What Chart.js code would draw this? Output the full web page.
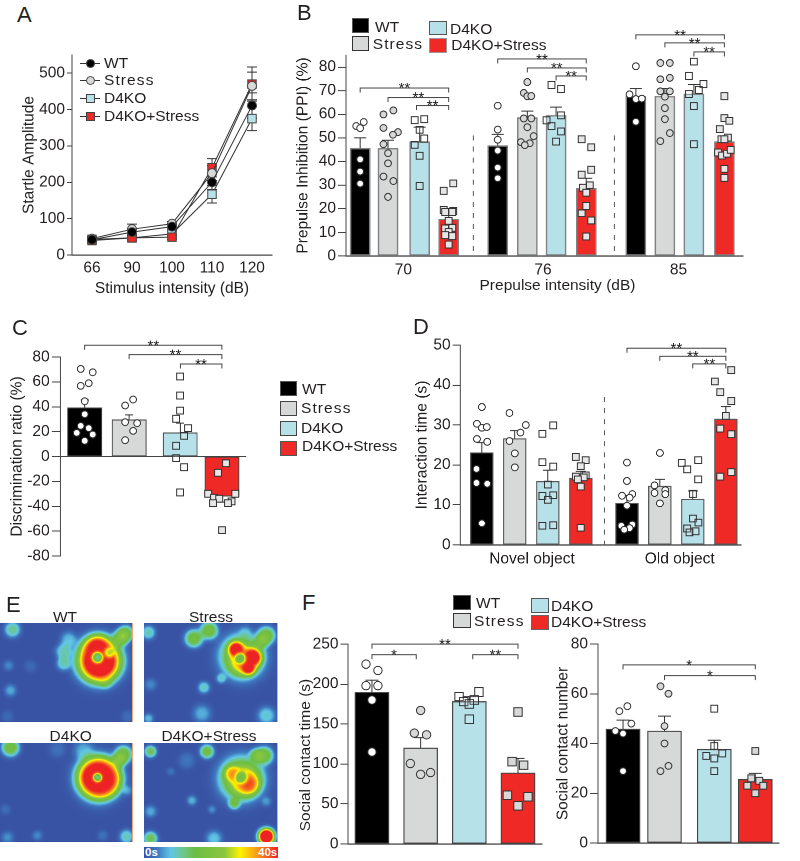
<!DOCTYPE html>
<html>
<head>
<meta charset="utf-8">
<title>D4KO stress panels</title>
<script src="https://cdn.jsdelivr.net/npm/chart.js@4/dist/chart.umd.min.js"></script>
<style>
  html, body { margin: 0; padding: 0; background: #fff; }
  #page { position: relative; width: 800px; height: 861px; overflow: hidden; font-family: "Liberation Sans", Arial, sans-serif; color: #231f20; }
  #page canvas { position: absolute; }
  .txt { position: absolute; white-space: nowrap; line-height: 1; }
  .box { position: absolute; box-sizing: border-box; }
</style>
</head>
<body>
<div id="page"></div>
<script>
// ---- data ----
const groupNames = ['WT', 'Stress', 'D4KO', 'D4KO+Stress'];

// A: startle
const startleLabels = ['66', '90', '100', '110', '120'];
const startleWT = [42, 63, 78, 200, 411];
const startleStress = [45, 71, 86, 225, 465];
const startleKO = [43, 47, 58, 167, 375];
const startleRed = [40, 47, 49, 240, 470];
const startleWTErr = [5, 10, 6, 20, 35];
const startleStressErr = [5, 14, 6, 20, 38];
const startleKOErr = [4, 6, 8, 24, 33];
const startleRedErr = [4, 6, 6, 25, 47];

// B: PPI, one mean/err per bar, 4 bars per intensity
const ppiLabels = ['70', '76', '85'];
const ppiMeans = [45.6, 45.6, 48.3, 15.6, 46.7, 58.5, 59.5, 28.6, 67.6, 67.6, 68.6, 48.4];
const ppiTops = [50, 49, 54.5, 19, 51.5, 61.3, 63, 32.9, 70.8, 70.8, 72.7, 50.4];
const ppi70WT = [55, 54.1, 56.7, 40.9, 35.7, 30.6];
const ppi70Stress = [59.9, 61.6, 54.2, 52.4, 51.3, 47.3, 43.5, 39.2, 33.6, 31.7, 25];
const ppi70KO = [57.5, 57.9, 53.4, 49.7, 47, 42.4, 29.6];
const ppi70Red = [30.7, 27.6, 19.4, 19.1, 18.6, 18.6, 14.9, 11.6, 11.9, 10.2, 8.8, 8.4, 4.8];
const ppi76WT = [63.6, 53.5, 49.2, 44.6, 37.4, 32.9];
const ppi76Stress = [73.6, 69, 67.6, 67.7, 58.2, 58.2, 54.5, 50.7, 48.2, 47.7, 46.9];
const ppi76KO = [72.4, 70.7, 59.5, 57.4, 55, 52.7, 48.4];
const ppi76Red = [49.4, 46, 36.5, 34.4, 29.9, 28.9, 26.8, 21.2, 18, 15, 8.2];
const ppi85WT = [80.3, 68.4, 66.4, 66.6, 56.8];
const ppi85Stress = [81.7, 81.7, 74.8, 75.4, 69.7, 69.7, 67.4, 62.6, 57.9, 52, 48.6];
const ppi85KO = [82.3, 76.2, 72.7, 70.3, 68.6, 63.5, 47.3];
const ppi85Red = [67.6, 58.4, 57.2, 53.7, 50.1, 49.4, 49.4, 43.8, 42.5, 43.3, 44.9, 36.8, 33];
// from bar, to bar, bracket height, stars
const ppiBrackets = [
  [0, 3, 71.1, '**'], [1, 3, 67.1, '**'], [1.9, 3, 63.7, '**'],
  [4, 7, 83.4, '**'], [5, 7, 79.6, '**'], [6, 7, 76.2, '**'],
  [8, 11, 93.6, '**'], [9, 11, 90.2, '**'], [10, 11, 86.4, '**']
];

// C: discrimination ratio
const discMeans = [39.1, 29.5, 19, -31.9];
const discTops = [45.5, 33.5, 26.8, -36.7];
const discWT = [70.4, 67.7, 58.9, 56.8, 44.4, 34, 24.6, 22.8, 19, 17.7, 12.6];
const discStress = [45.8, 41, 27.6, 26.8, 20.6, 13.1];
const discKO = [64.3, 49, 36.9, 30.3, 22.8, 16.6, 8.6, -1.3, -8.6, -28.9];
const discRed = [-5.4, -13.1, -30, -30, -33.2, -34, -36.1, -37.5, -37.5, -59.2];
const discBrackets = [[0, 3, 89.4, '**'], [1, 3, 81.9, '**'], [2, 3, 74.4, '**']];

// D: interaction time
const objectLabels = ['Novel object', 'Old object'];
const objectMeans = [23.1, 26.6, 15.9, 16.7, 10.4, 14.7, 11.4, 31.5];
const objectTops = [25.6, 28.6, 18.7, 18.4, 12.3, 16.4, 13.5, 34.6];
const novelWT = [34.5, 30.3, 29.3, 29.5, 26.5, 25.8, 19, 15.5, 15.3, 5.4];
const novelStress = [33, 30, 28.1, 26, 22.9, 19.4];
const novelKO = [29.9, 27.8, 20.7, 19.6, 15.1, 12.2, 12.4, 11.3, 4.8, 4.9];
const novelRed = [22, 21.2, 19.7, 17.1, 17.4, 16.9, 16.4, 14.6, 4.3];
const oldWT = [20.6, 16, 12.3, 12.7, 11.8, 9.8, 4.8, 5.1, 4.2, 3.8];
const oldStress = [23, 14.9, 13.7, 13, 12.7, 10.4];
const oldKO = [20.5, 21.2, 18.9, 16.4, 12.8, 6.6, 5.6, 4.1, 3.4, 3.1];
const oldRed = [43.7, 40.9, 38.2, 36, 32.3, 29.1, 27.7, 18.2, 17.1];
const objectBrackets = [[4, 7, 49.2, '**'], [5, 7, 47.2, '**'], [6, 7, 45.3, '**']];

// F: social contact
const timeMeans = [189.5, 120, 178, 89];
const timeTops = [205, 133, 184, 107];
const timeWT = [225, 217, 198, 198, 180, 115];
const timeStress = [167, 138.6, 136.5, 100.6, 89.3, 87];
const timeKO = [190, 184.5, 178, 180, 175, 156];
const timeRed = [165, 103, 98.5, 61, 59, 47.6];
const timeBrackets = [[0, 3, 250, '**'], [0, 0.91, 236.6, '*'], [2.07, 3, 236.6, '**']];
const numberMeans = [45.8, 45, 37.7, 25.6];
const numberTops = [49.4, 51, 41.3, 28];
const numberWT = [55, 53, 48, 45, 44, 28.9];
const numberStress = [63, 60, 47, 40, 31, 28.9];
const numberKO = [54, 39, 35, 36, 34, 28.9];
const numberRed = [37, 26, 25, 23, 23, 20];
const numberBrackets = [[0, 3, 71.6, '*'], [1, 3, 67.3, '*']];

// E: heat blobs, [x, y, radius, peak] in arena units, negative peak carves a hole
const heatWT = [
  [98, 36, 23, 0.5], [99, 38, 19, 1.5], [97, 26, 13, 1.3], [97, 34, 5, -0.72], [109, 29, 5, -0.35],
  [125, 10, 8, 0.42], [120, 15, 8, 0.4], [12, 6, 8, 0.28], [63, 28, 8, 0.24], [63, 40, 7, 0.24], [68, 16, 8, 0.18],
  [8, 42, 5, 0.12], [10, 67, 6, 0.16], [105, 58, 7, 0.2], [30, 43, 6, 0.06], [127, 93, 6, 0.07], [7, 93, 6, 0.06]
];
const heatStress = [
  [97, 33, 22, 0.55], [91, 26, 8, 1.3], [107, 34, 9, 1.4], [103, 44, 7, 1.3], [98, 38, 13, 0.7], [95, 35, 5, -0.6],
  [121, 12, 9, 0.42], [116, 18, 7, 0.3], [49, 15, 9, 0.42], [64, 7, 9, 0.42], [4, 9, 7, 0.25], [59, 64, 6, 0.24],
  [76, 55, 5, 0.2], [6, 61, 6, 0.12], [57, 90, 9, 0.17], [121, 92, 9, 0.22], [4, 95, 5, 0.18], [100, 8, 6, 0.1]
];
const heatKO = [
  [98, 35, 22, 0.5], [97, 34, 18, 1.5], [102, 36, 16, 1.2], [97, 34, 4, -0.7],
  [123, 11, 9, 0.42], [118, 17, 7, 0.36], [10, 4, 9, 0.42], [83, 7, 10, 0.16], [57, 6, 8, 0.08], [127, 47, 5, 0.13],
  [126, 93, 7, 0.25], [37, 92, 5, 0.12], [7, 94, 6, 0.13], [5, 66, 5, 0.07], [102, 92, 5, 0.08]
];
const heatRed = [
  [96, 35, 22, 0.55], [100, 38, 14, 0.68], [104, 41, 9, 0.7], [87, 30, 8, 0.66], [96, 34, 6, -0.5],
  [89, 60, 6, 0.32], [119, 12, 9, 0.42], [111, 12, 7, 0.34], [62, 8, 7, 0.4], [6, 8, 6, 0.36], [121, 93, 8, 1.4],
  [47, 57, 5, 0.17], [67, 66, 4, 0.13], [6, 68, 6, 0.16], [6, 95, 7, 0.36], [69, 95, 8, 0.2], [26, 28, 4, 0.08],
  [121, 58, 5, 0.13], [42, 17, 8, 0.09]
];

// ---- look ----
const FONT = '"Liberation Sans", Arial, sans-serif';
const INK = '#231f20';
const LINE = '#444444';
const barColors = ['#000000', '#d7d8d8', '#b7e1e9', '#ef2a26'];
const heatStops = [
  [0, [57, 83, 164]], [0.1, [62, 120, 190]], [0.2, [96, 198, 230]], [0.3, [110, 200, 130]], [0.38, [108, 189, 69]],
  [0.6, [140, 198, 63]], [0.72, [255, 242, 0]], [0.85, [247, 148, 29]], [1, [237, 34, 36]]
];

Chart.defaults.font.family = FONT;
Chart.defaults.color = INK;
Chart.defaults.animation = false;

const page = document.getElementById('page');

function addText(str, x, y, size, extra) {
  const el = document.createElement('div');
  el.className = 'txt';
  el.textContent = str;
  el.style.left = x + 'px';
  el.style.top = y + 'px';
  el.style.fontSize = size + 'px';
  el.style.transform = 'translateY(-50%)';
  Object.assign(el.style, extra || {});
  page.appendChild(el);
  return el;
}

function addBox(x, y, w, h, fill, edge) {
  const el = document.createElement('div');
  el.className = 'box';
  el.style.cssText += `left:${x}px;top:${y}px;width:${w}px;height:${h}px;background:${fill};border:${edge};`;
  page.appendChild(el);
  return el;
}

function addCanvas(area, gutter, topPad, rightPad, bottomPad) {
  const c = document.createElement('canvas');
  const w = area[2] - area[0] + gutter + rightPad;
  const h = area[3] - area[1] + topPad + bottomPad;
  c.width = w;
  c.height = h;
  c.style.cssText = `left:${area[0] - gutter}px;top:${area[1] - topPad}px;width:${w}px;height:${h}px;`;
  page.appendChild(c);
  return c.getContext('2d');
}

// error bars, brackets, stars and dashed separators, all placed through the scales
const markup = {
  id: 'markup',
  afterDatasetDraw(chart, args, opts) {
    if (args.meta.type !== 'bar') return;
    const { x, y } = chart.scales;
    const ctx = chart.ctx;
    ctx.save();
    ctx.strokeStyle = '#333333';
    ctx.lineWidth = 1;
    opts.slots.forEach((s, i) => {
      const px = x.getPixelForValue(s);
      ctx.beginPath();
      ctx.moveTo(px, y.getPixelForValue(opts.means[i]));
      ctx.lineTo(px, y.getPixelForValue(opts.tops[i]));
      ctx.moveTo(px - opts.cap, y.getPixelForValue(opts.tops[i]));
      ctx.lineTo(px + opts.cap, y.getPixelForValue(opts.tops[i]));
      ctx.stroke();
    });
    ctx.restore();
  },
  afterDraw(chart, args, opts) {
    const { x, y } = chart.scales;
    const ctx = chart.ctx;
    const slotAt = b => {
      const lo = Math.floor(b);
      const hi = Math.min(lo + 1, opts.slots.length - 1);
      return opts.slots[lo] + (opts.slots[hi] - opts.slots[lo]) * (b - lo);
    };
    ctx.save();
    ctx.strokeStyle = LINE;
    ctx.fillStyle = INK;
    ctx.lineWidth = 1;
    ctx.textAlign = 'center';
    ctx.font = '15px ' + FONT;
    (opts.brackets || []).forEach(([from, to, level, stars]) => {
      const x0 = x.getPixelForValue(slotAt(from));
      const x1 = x.getPixelForValue(slotAt(to));
      const py = y.getPixelForValue(level);
      ctx.beginPath();
      ctx.moveTo(x0, py + 4.5);
      ctx.lineTo(x0, py);
      ctx.lineTo(x1, py);
      ctx.lineTo(x1, py + 4.5);
      ctx.stroke();
      ctx.fillText(stars, (x0 + x1) / 2, py + 5);
    });
    ctx.setLineDash([5, 6]);
    ctx.strokeStyle = '#555555';
    (opts.dashes || []).forEach(([slot, from, to]) => {
      const px = x.getPixelForValue(slot);
      ctx.beginPath();
      ctx.moveTo(px, y.getPixelForValue(from));
      ctx.lineTo(px, y.getPixelForValue(to));
      ctx.stroke();
    });
    ctx.restore();
  }
};

function yAxis(min, max, step, title, gutter, tickLen, showTitle) {
  return {
    min, max,
    afterFit(s) { s.width = gutter; },
    ticks: { stepSize: step, includeBounds: false, font: { size: 15.5 }, color: INK, padding: 2 },
    grid: { drawOnChartArea: false, tickLength: tickLen, tickColor: LINE },
    border: { color: LINE, width: 1 },
    title: { display: showTitle !== false, text: title, font: { size: 15.5 }, color: INK, padding: { top: 0, bottom: 0 } }
  };
}

// one panel of bars with jittered dots
function barPanel(cfg) {
  const ctx = addCanvas(cfg.area, cfg.gutter, cfg.topPad, 2, cfg.bottomPad);
  const u = cfg.unit;
  const jitterUnit = cfg.barPx / u;
  const dotSets = groupNames.map((name, g) => {
    const pts = [];
    cfg.dots.forEach((vals, i) => {
      if (i % 4 !== g) return;
      vals.forEach((v, k) => pts.push({ x: cfg.slots[i] + cfg.jitter[i][k] * jitterUnit, y: v }));
    });
    return {
      type: 'scatter',
      label: name,
      data: pts,
      order: 1,
      clip: false,
      pointStyle: g < 2 ? 'circle' : 'rect',
      pointRadius: g < 2 ? cfg.dotR : cfg.dotR * 1.414,
      pointBackgroundColor: cfg.dotFills[g],
      pointBorderColor: '#333333',
      pointBorderWidth: 1
    };
  });
  new Chart(ctx, {
    type: 'bar',
    data: {
      datasets: [{
        label: 'mean',
        data: cfg.slots.map((s, i) => ({ x: s, y: cfg.means[i] })),
        order: 5,
        grouped: false,
        barThickness: cfg.barPx,
        backgroundColor: cfg.slots.map((s, i) => barColors[i % 4]),
        borderColor: cfg.edge,
        borderWidth: cfg.edgeW,
        borderSkipped: false
      }].concat(dotSets)
    },
    options: {
      responsive: false,
      devicePixelRatio: 2,
      layout: { padding: { top: cfg.topPad, right: 2, left: 0, bottom: 0 } },
      plugins: {
        legend: { display: false },
        tooltip: { enabled: false },
        markup: { slots: cfg.slots, means: cfg.means, tops: cfg.tops, cap: cfg.cap, brackets: cfg.brackets, dashes: cfg.dashes }
      },
      scales: {
        x: {
          type: 'linear',
          offset: false,
          display: cfg.hideX ? false : true,
          min: (cfg.area[0] - cfg.first) / u,
          max: (cfg.area[2] - cfg.first) / u,
          afterFit(s) { s.height = cfg.bottomPad; },
          afterBuildTicks(s) { s.ticks = (cfg.tickSlots || []).map(v => ({ value: v })); },
          ticks: {
            display: !!cfg.tickSlots,
            autoSkip: false,
            maxRotation: 0,
            padding: 5,
            font: { size: 15.5 },
            color: INK,
            callback: v => (cfg.tickLabels || [])[(cfg.tickSlots || []).indexOf(v)]
          },
          grid: { display: false, drawTicks: false },
          border: { color: LINE, width: 1.2 }
        },
        y: cfg.y
      }
    },
    plugins: [markup]
  });
}

// ---- A ----
(function () {
  const area = [72, 55, 273, 255];
  const ctx = addCanvas(area, 52, 12, 6, 43);
  const styles = [
    { label: groupNames[0], data: startleWT, pointStyle: 'circle', pointRadius: 4.5, pointBackgroundColor: '#000000', errs: startleWTErr },
    { label: groupNames[1], data: startleStress, pointStyle: 'circle', pointRadius: 4.5, pointBackgroundColor: '#d7d8d8', errs: startleStressErr },
    { label: groupNames[3], data: startleRed, pointStyle: 'rect', pointRadius: 6, pointBackgroundColor: barColors[3], errs: startleRedErr },
    { label: groupNames[2], data: startleKO, pointStyle: 'rect', pointRadius: 6, pointBackgroundColor: barColors[2], errs: startleKOErr }
  ];
  const whiskers = {
    id: 'whiskers',
    beforeDatasetsDraw(chart) {
      const { x, y } = chart.scales;
      const c = chart.ctx;
      c.save();
      c.strokeStyle = '#333333';
      c.lineWidth = 1;
      chart.data.datasets.forEach(ds => {
        ds.data.forEach((v, i) => {
          const px = x.getPixelForValue(i);
          const hi = y.getPixelForValue(v + ds.errs[i]);
          const lo = y.getPixelForValue(v - ds.errs[i]);
          c.beginPath();
          c.moveTo(px, hi); c.lineTo(px, lo);
          c.moveTo(px - 5, hi); c.lineTo(px + 5, hi);
          c.moveTo(px - 5, lo); c.lineTo(px + 5, lo);
          c.stroke();
        });
      });
      c.restore();
    }
  };
  new Chart(ctx, {
    type: 'line',
    data: {
      labels: startleLabels,
      datasets: styles.map(s => Object.assign({ borderColor: '#333333', borderWidth: 1, tension: 0, pointBorderColor: '#444444', pointBorderWidth: 1, clip: false }, s))
    },
    options: {
      responsive: false,
      devicePixelRatio: 2,
      layout: { padding: { top: 12, right: 6, left: 0, bottom: 0 } },
      plugins: { legend: { display: false }, tooltip: { enabled: false } },
      scales: {
        x: {
          offset: true,
          afterFit(s) { s.height = 43; },
          ticks: { font: { size: 15.5 }, color: INK, padding: 4 },
          grid: { display: false, drawTicks: false },
          border: { color: LINE, width: 1.2 },
          title: { display: true, text: 'Stimulus intensity (dB)', font: { size: 15.5 }, color: INK, padding: 0 }
        },
        y: yAxis(0, 550, 100, 'Startle Amplitude', 52, 5)
      }
    },
    plugins: [whiskers]
  });
})();

// ---- B ----
barPanel({
  area: [346, 55, 747, 255.7], gutter: 52, topPad: 40, bottomPad: 24,
  first: 360.3, unit: 29.3, barPx: 20, edge: '#808285', edgeW: 1.5, cap: 6, dotR: 3.4,
  slots: [0, 0.96, 2.05, 3.05, 4.74, 5.76, 6.75, 7.79, 9.5, 10.5, 11.5, 12.55],
  means: ppiMeans, tops: ppiTops, brackets: ppiBrackets,
  dashes: [[3.9, 51, 1.7], [8.76, 51, 1.7]],
  tickSlots: [1.49, 6.3, 10.97], tickLabels: ppiLabels,
  dotFills: ['#ffffff', '#d7d8d8', 'rgba(255,255,255,0.15)', '#e6e6e6'],
  dots: [ppi70WT, ppi70Stress, ppi70KO, ppi70Red, ppi76WT, ppi76Stress, ppi76KO, ppi76Red, ppi85WT, ppi85Stress, ppi85KO, ppi85Red],
  jitter: [
    [-0.2, 0, 0.18, 0, 0, 0],
    [-0.23, 0.27, -0.23, 0.5, 0.25, -0.23, 0, 0, -0.23, 0.27, 0],
    [-0.25, 0.23, 0, 0.23, -0.25, 0, 0],
    [0.23, -0.25, -0.25, 0.23, -0.18, 0.18, 0, -0.18, 0.18, 0, -0.18, 0.18, 0],
    [0, 0, 0, 0, 0, 0],
    [0, -0.18, 0, 0.2, -0.18, 0.2, 0, 0.32, -0.32, 0.12, -0.13],
    [-0.23, 0.25, 0.25, -0.48, -0.23, 0.25, 0],
    [-0.23, 0.25, 0.25, -0.23, 0.18, -0.17, 0, 0, -0.23, 0.25, 0],
    [0, -0.32, 0, 0.3, 0],
    [-0.23, 0.25, -0.23, 0.25, -0.23, 0.25, 0, 0, 0, 0.25, -0.23],
    [0, -0.25, 0.48, 0.25, -0.25, 0, 0],
    [0, 0, 0.25, -0.23, 0.18, -0.15, 0, -0.32, -0.12, 0.13, 0.32, 0, 0]
  ],
  y: yAxis(0, 85, 10, 'Prepulse Inhibition (PPI) (%)', 52, 8)
});

// ---- C ----
(function () {
  const y = yAxis(-80, 80, 20, 'Discrimination ratio (%)', 52, 8.5);
  y.grid = {
    drawOnChartArea: true,
    tickLength: 8.5,
    tickColor: LINE,
    color: c => (c.tick && c.tick.value === 0 ? LINE : 'rgba(0,0,0,0)')
  };
  barPanel({
    area: [60.3, 356.7, 250, 556], gutter: 52, topPad: 22, bottomPad: 12, hideX: true,
    first: 85.3, unit: 45.3, barPx: 34, edge: '#444444', edgeW: 1, cap: 4, dotR: 3.4,
    slots: [0, 1, 2.15, 3.09],
    means: discMeans, tops: discTops, brackets: discBrackets,
    dotFills: ['#ffffff', '#ffffff', 'rgba(255,255,255,0.2)', '#e6e6e6'],
    dots: [discWT, discStress, discKO, discRed],
    jitter: [
      [-0.12, 0.24, 0.12, -0.12, 0, 0, -0.12, 0.12, -0.24, 0.24, 0],
      [0.12, -0.12, -0.12, 0.24, 0.12, -0.12],
      [0, 0, 0, -0.12, 0.24, 0.12, -0.12, -0.12, 0.12, 0],
      [0.12, -0.12, -0.41, 0.4, -0.24, -0.08, 0.29, -0.27, 0.18, 0]
    ],
    y
  });
})();

// ---- D ----
barPanel({
  area: [460.3, 345.3, 745, 545], gutter: 47, topPad: 12, bottomPad: 24,
  first: 482.3, unit: 33.4, barPx: 22.7, edge: '#58595b', edgeW: 1.2, cap: 5, dotR: 3.4,
  slots: [0, 1, 2, 3, 4.4, 5.4, 6.4, 7.4],
  means: objectMeans, tops: objectTops, brackets: objectBrackets,
  dashes: [[3.72, 37, 0]],
  tickSlots: [1.52, 6], tickLabels: objectLabels,
  dotFills: ['#ffffff', '#ffffff', 'rgba(255,255,255,0.15)', '#e6e6e6'],
  dots: [novelWT, novelStress, novelKO, novelRed, oldWT, oldStress, oldKO, oldRed],
  jitter: [
    [0, -0.22, 0, 0.22, -0.22, 0.24, -0.24, -0.24, 0.24, 0],
    [-0.24, 0.49, 0.25, -0.24, 0, 0],
    [0.24, -0.24, -0.24, 0.24, 0, -0.24, 0.24, 0, -0.24, 0.24],
    [-0.22, 0.22, 0, -0.22, 0.22, 0.13, -0.13, 0, 0],
    [0, 0, -0.22, 0.24, 0.12, 0, -0.25, 0.24, 0.12, -0.12],
    [0, -0.24, 0.24, -0.24, 0.24, 0],
    [-0.5, 0.24, -0.25, 0.24, 0, 0, 0.25, -0.25, 0.12, -0.15],
    [0.24, -0.49, -0.25, 0.24, 0, -0.25, 0.24, 0.24, -0.25]
  ],
  y: yAxis(0, 50, 10, 'Interaction time (s)', 47, 7.5)
});

// ---- E ----
function heatValue(x, y, blobs) {
  let keep = 1;
  let cut = 1;
  blobs.forEach(([bx, by, r, peak]) => {
    const d = Math.hypot(x - bx, y - by) / r;
    const g = Math.exp(-d * d * d);
    if (peak >= 0) keep *= Math.max(0, 1 - peak * g);
    else cut *= 1 + peak * g;
  });
  return (1 - keep) * cut;
}

function heatColor(v) {
  for (let i = 1; i < heatStops.length; i++) {
    if (v <= heatStops[i][0]) {
      const [a, ca] = heatStops[i - 1];
      const [b, cb] = heatStops[i];
      const t = (v - a) / (b - a);
      return ca.map((c, k) => c + (cb[k] - c) * t);
    }
  }
  return heatStops[heatStops.length - 1][1];
}

const heatLayer = {
  id: 'heatLayer',
  beforeDatasetsDraw(chart, args, opts) {
    const { x, y } = chart.scales;
    const { left, top, width, height } = chart.chartArea;
    const w = Math.round(width);
    const h = Math.round(height);
    const off = document.createElement('canvas');
    off.width = w;
    off.height = h;
    const octx = off.getContext('2d');
    const img = octx.createImageData(w, h);
    for (let j = 0; j < h; j++) {
      for (let i = 0; i < w; i++) {
        const col = heatColor(heatValue(x.getValueForPixel(left + i), y.getValueForPixel(top + j), opts.blobs));
        const p = (j * w + i) * 4;
        img.data[p] = col[0];
        img.data[p + 1] = col[1];
        img.data[p + 2] = col[2];
        img.data[p + 3] = 255;
      }
    }
    octx.putImageData(img, 0, 0);
    chart.ctx.drawImage(off, left, top, width, height);
    chart.ctx.save();
    chart.ctx.strokeStyle = '#f2a77a';
    chart.ctx.lineWidth = 1;
    chart.ctx.beginPath();
    chart.ctx.moveTo(left + width - 0.5, top);
    chart.ctx.lineTo(left + width - 0.5, top + height);
    chart.ctx.stroke();
    chart.ctx.restore();
  }
};

function heatPanel(blobs, area) {
  const ctx = addCanvas(area, 0, 0, 0, 0);
  new Chart(ctx, {
    type: 'scatter',
    data: { datasets: [{ data: [] }] },
    options: {
      responsive: false,
      plugins: { legend: { display: false }, tooltip: { enabled: false }, heatLayer: { blobs } },
      scales: {
        x: { type: 'linear', min: 0, max: 133, display: false },
        y: { type: 'linear', min: 0, max: 99, reverse: true, display: false }
      }
    },
    plugins: [heatLayer]
  });
}

heatPanel(heatWT, [0, 623, 133, 722]);
heatPanel(heatStress, [144, 623, 278, 722]);
heatPanel(heatKO, [0, 743, 133, 842]);
heatPanel(heatRed, [144, 743, 278, 842]);

// ---- F ----
barPanel({
  area: [347.7, 644.3, 547, 844], gutter: 45, topPad: 12, bottomPad: 12,
  first: 372.3, unit: 50, barPx: 34, edge: '#444444', edgeW: 1.2, cap: 6.5, dotR: 4.2,
  slots: [0, 1, 2, 3],
  means: timeMeans, tops: timeTops, brackets: timeBrackets,
  dotFills: ['#ffffff', '#d7d8d8', 'rgba(255,255,255,0.15)', '#d7d8d8'],
  dots: [timeWT, timeStress, timeKO, timeRed],
  jitter: [
    [-0.18, 0.18, -0.18, 0.18, 0, 0],
    [0, -0.19, 0.18, -0.31, 0.3, 0],
    [0.29, -0.31, -0.17, 0.15, 0, 0],
    [0, -0.18, 0.17, -0.32, 0.3, 0]
  ],
  y: yAxis(0, 250, 50, '', 45, 7.5, false)
});

barPanel({
  area: [597.7, 644, 783, 843.3], gutter: 44, topPad: 12, bottomPad: 12,
  first: 623.3, unit: 42.4, barPx: 34, edge: '#444444', edgeW: 1.2, cap: 6.5, dotR: 3.4,
  slots: [0, 1, 2.2, 3.19],
  means: numberMeans, tops: numberTops, brackets: numberBrackets,
  dotFills: ['#ffffff', '#d7d8d8', 'rgba(255,255,255,0.15)', '#d7d8d8'],
  dots: [numberWT, numberStress, numberKO, numberRed],
  jitter: [
    [0.13, -0.11, 0.25, -0.23, 0, 0],
    [-0.12, 0.12, 0, 0, 0.12, -0.12],
    [0, 0, -0.24, 0.24, 0, 0],
    [0, -0.12, 0.12, -0.24, 0.24, 0]
  ],
  y: yAxis(0, 80, 20, 'Social contact number', 44, 8)
});

// ---- page text: panel letters, legends, titles placed by hand ----
[['A', 17, 15], ['B', 297, 13], ['C', 12, 328], ['D', 413, 327], ['E', 6, 605], ['F', 302, 603]].forEach(([t, x, y]) => addText(t, x, y, 22));

addText('Prepulse intensity (dB)', 557.5, 285, 15.5, { transform: 'translate(-50%,-50%)' });
addText('Social contact time (s)', 305, 755, 15.5, { transform: 'translate(-50%,-50%) rotate(-90deg)' });

const stressStretch = { letterSpacing: '1.1px' };

// A legend, line-and-marker keys
[[63, barColors[0], '50%', 'WT'], [80, barColors[1], '50%', 'Stress'], [98, barColors[2], '0', 'D4KO'], [116, barColors[3], '0', 'D4KO+Stress']].forEach(([y, fill, rad, name], i) => {
  addBox(80, y, 20, 1, '#333333', '0');
  addBox(85.5, y - 4, 9, 9, fill, '1px solid #444').style.borderRadius = rad;
  addText(name, 104, y, 15.5, i === 1 ? stressStretch : null);
});

// B legend
addBox(352, 18, 17, 15, barColors[0], '1px solid #555');
addBox(352, 36, 17, 15, barColors[1], '1px solid #333');
addBox(429, 21, 18, 14, barColors[2], '1px solid #555');
addBox(429, 38, 18, 15, barColors[3], '1px solid #999');
addText('WT', 375, 27, 15.5);
addText('Stress', 372.7, 44, 15.5, stressStretch);
addText('D4KO', 450, 29, 15.5);
addText('D4KO+Stress', 451.3, 45, 15.5);

// C legend
addBox(280, 381, 17, 15, barColors[0], '1px solid #555');
addBox(280, 400.5, 17, 15, barColors[1], '1px solid #444');
addBox(280, 421, 17, 15, barColors[2], '1px solid #444');
addBox(280, 441, 17, 14.5, barColors[3], '1px solid #555');
addText('WT', 302, 389, 15.5);
addText('Stress', 301, 408, 15.5, stressStretch);
addText('D4KO', 301, 428, 15.5);
addText('D4KO+Stress', 302, 446, 15.5);

// E titles and colour bar
const midText = { transform: 'translate(-50%,-50%)' };
addText('WT', 65, 617, 15.5, midText);
addText('Stress', 211, 617, 15.5, midText);
addText('D4KO', 70.7, 736, 15.5, midText);
addText('D4KO+Stress', 209, 736, 15.5, midText);
const ramp = heatStops.map(([p, c]) => `rgb(${c.join(',')}) ${p * 100}%`).join(',');
addBox(144, 847, 134, 11, `linear-gradient(90deg,${ramp})`, '0');
addText('0s', 145, 852.5, 11.5, { color: '#fff', fontWeight: 'bold' });
addText('40s', 258, 852.5, 11.5, { color: '#fff', fontWeight: 'bold' });

// F legend
addBox(453, 595, 18, 15, barColors[0], '1px solid #555');
addBox(453, 613, 18, 15, barColors[1], '1px solid #333');
addBox(530.7, 598, 18, 14.5, barColors[2], '1px solid #555');
addBox(530.7, 615, 18, 15, barColors[3], '1px solid #666');
addText('WT', 476, 603, 15.5);
addText('Stress', 474, 621, 15.5, stressStretch);
addText('D4KO', 551, 606, 15.5);
addText('D4KO+Stress', 551, 622, 15.5);
</script>
</body>
</html>
